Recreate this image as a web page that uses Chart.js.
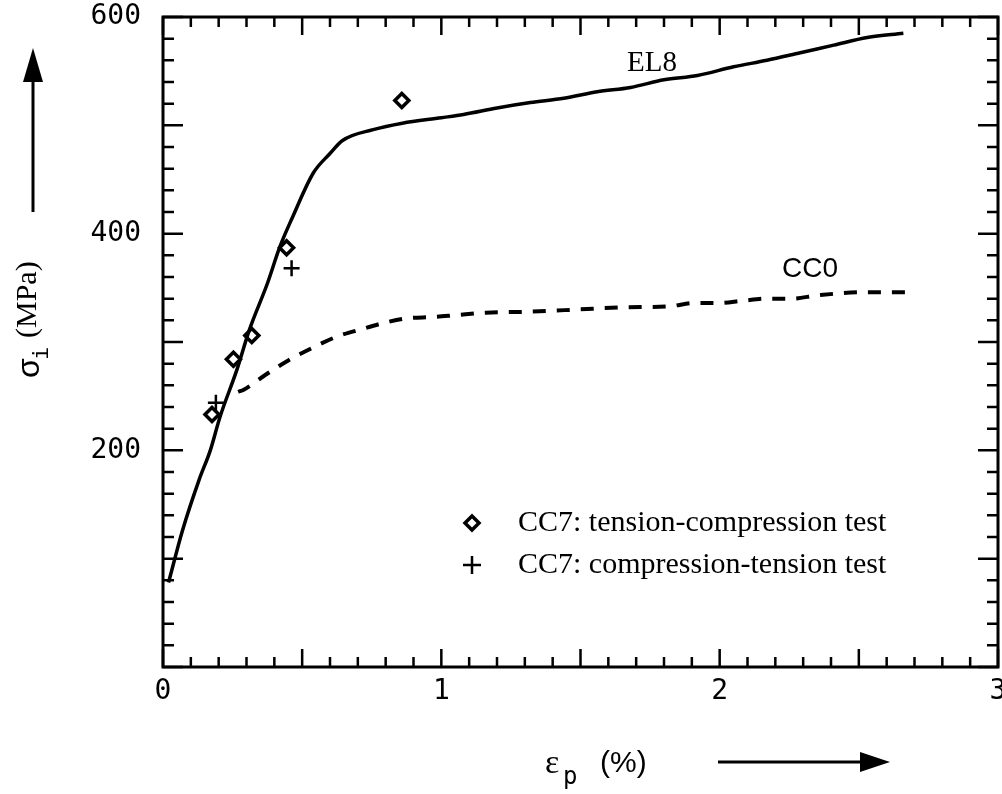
<!DOCTYPE html>
<html lang="en">
<head>
  <meta charset="UTF-8">
  <title>Stress vs plastic strain</title>
  <style>
    body { margin: 0; background: #fff; }
    #wrap { width: 1002px; height: 794px; }
  </style>
  <script src="https://cdn.jsdelivr.net/npm/chart.js"></script>
</head>
<body>
  <div id="wrap"><canvas id="chart" width="1002" height="794"></canvas></div>
  <script>
    // EL8 curve (solid)
    const elStrain = [0.02, 0.07, 0.13, 0.17, 0.205, 0.265, 0.31, 0.375, 0.42, 0.465, 0.54, 0.60, 0.645, 0.755, 0.86, 1.0, 1.08, 1.2, 1.32, 1.44, 1.56, 1.68, 1.8, 1.92, 2.05, 2.17, 2.29, 2.41, 2.53, 2.66];
    const elStress = [78, 126, 173, 200, 231, 274, 311, 354, 388, 415, 456, 474, 486, 496, 502, 507, 510, 516, 521, 525, 531, 535, 542, 546, 554, 560, 567, 574, 581, 585];
    // CC0 curve (dashed)
    const ccStrain = [0.27, 0.29, 0.37, 0.45, 0.54, 0.625, 0.715, 0.80, 0.88, 0.97, 1.06, 1.16, 1.32, 1.49, 1.65, 1.82, 1.91, 2.0, 2.08, 2.17, 2.26, 2.35, 2.52, 2.70];
    const ccStress = [254, 256, 270, 283, 295, 305, 312, 318, 322, 323, 325, 327, 328, 330, 332, 333, 336, 336, 338, 340, 340, 343, 346, 346];
    // CC7 tests
    const tcStrain = [0.176, 0.253, 0.319, 0.444, 0.858];
    const tcStress = [233, 284, 306, 387, 523];
    const ctStrain = [0.19, 0.462];
    const ctStress = [244, 368];
    const xTicks = [0, 1, 2, 3];
    const yTicks = [200, 400, 600];

    const pts = (xs, ys) => xs.map((v, i) => ({ x: v, y: ys[i] }));
    const tickFont = { family: 'DejaVu Sans Mono', size: 28 };

    // pin the plot box to the same frame as the original figure
    const fitArea = {
      id: 'fitArea',
      afterLayout(chart) {
        const a = chart.chartArea, x = chart.scales.x;
        a.right = 998; a.width = a.right - a.left;
        x.right = 998; x.width = x.right - x.left;
        x.configure();
      }
    };

    // frame with inward ticks, curve labels, legend and axis titles
    const decor = {
      id: 'decor',
      afterDraw(chart) {
        const { ctx, chartArea: a, scales: { x, y } } = chart;
        ctx.save();
        ctx.strokeStyle = '#000';
        ctx.fillStyle = '#000';
        ctx.lineWidth = 3;
        ctx.strokeRect(a.left, a.top, a.right - a.left, a.bottom - a.top);
        ctx.lineWidth = 2.5;
        ctx.beginPath();
        for (let i = 0; i <= 30; i++) {
          const px = x.getPixelForValue(i / 10);
          const len = i % 5 === 0 ? 18 : 10;
          ctx.moveTo(px, a.bottom); ctx.lineTo(px, a.bottom - len);
          ctx.moveTo(px, a.top); ctx.lineTo(px, a.top + len);
        }
        for (let v = 0; v <= 600; v += 20) {
          const py = y.getPixelForValue(v);
          const len = v % 100 === 0 ? 20 : 11;
          ctx.moveTo(a.left, py); ctx.lineTo(a.left + len, py);
          ctx.moveTo(a.right, py); ctx.lineTo(a.right - len, py);
        }
        ctx.stroke();

        // curve labels
        ctx.textBaseline = 'middle';
        ctx.textAlign = 'center';
        ctx.font = '29px "Liberation Serif"';
        ctx.fillText('EL8', x.getPixelForValue(1.757), y.getPixelForValue(557));
        ctx.font = '28px "Liberation Sans"';
        ctx.fillText('CC0', x.getPixelForValue(2.325), y.getPixelForValue(367));

        // legend
        const lx = a.left + 309, ly1 = a.top + 506, ly2 = a.top + 548;
        ctx.lineWidth = 3.5;
        ctx.beginPath();
        ctx.moveTo(lx, ly1 - 7); ctx.lineTo(lx + 7, ly1); ctx.lineTo(lx, ly1 + 7); ctx.lineTo(lx - 7, ly1); ctx.closePath();
        ctx.stroke();
        ctx.lineWidth = 2.5;
        ctx.beginPath();
        ctx.moveTo(lx - 9, ly2); ctx.lineTo(lx + 9, ly2);
        ctx.moveTo(lx, ly2 - 9); ctx.lineTo(lx, ly2 + 9);
        ctx.stroke();
        ctx.textAlign = 'left';
        ctx.font = '30px "Liberation Serif"';
        ctx.fillText('CC7: tension-compression test', lx + 46, ly1);
        ctx.fillText('CC7: compression-tension test', lx + 46, ly2);

        // x axis title + arrow
        ctx.font = '34px "Liberation Serif"';
        ctx.fillText('\u03b5', 545, 764);
        ctx.font = '24px "DejaVu Sans Mono"';
        ctx.fillText('p', 563, 778);
        ctx.font = '30px "Liberation Sans"';
        ctx.fillText('(%)', 600, 764);
        ctx.lineWidth = 3;
        ctx.beginPath(); ctx.moveTo(718, 762); ctx.lineTo(866, 762); ctx.stroke();
        ctx.beginPath(); ctx.moveTo(890, 762); ctx.lineTo(860, 752); ctx.lineTo(860, 772); ctx.closePath(); ctx.fill();

        // y axis title + arrow
        ctx.save();
        ctx.translate(30, 378);
        ctx.rotate(-Math.PI / 2);
        ctx.textAlign = 'left';
        ctx.font = '32px "Liberation Sans"';
        ctx.fillText('\u03c3', 0, 0);
        ctx.font = '22px "DejaVu Sans Mono"';
        ctx.fillText('i', 18, 12);
        ctx.font = '30px "Liberation Serif"';
        ctx.fillText('(MPa)', 40, -2);
        ctx.restore();
        ctx.lineWidth = 3;
        ctx.beginPath(); ctx.moveTo(33, 212); ctx.lineTo(33, 75); ctx.stroke();
        ctx.beginPath(); ctx.moveTo(33, 48); ctx.lineTo(23, 82); ctx.lineTo(43, 82); ctx.closePath(); ctx.fill();
        ctx.restore();
      }
    };

    new Chart(document.getElementById('chart'), {
      type: 'scatter',
      data: {
        datasets: [
          { label: 'EL8', data: pts(elStrain, elStress), showLine: true, borderColor: '#000', borderWidth: 3.5, pointRadius: 0, cubicInterpolationMode: 'monotone' },
          { label: 'CC0', data: pts(ccStrain, ccStress), showLine: true, borderColor: '#000', borderWidth: 4, borderDash: [13, 11], pointRadius: 0, cubicInterpolationMode: 'monotone' },
          { label: 'CC7: tension-compression test', data: pts(tcStrain, tcStress), pointStyle: 'rectRot', pointRadius: 7, borderWidth: 3.5, borderColor: '#000', backgroundColor: '#fff' },
          { label: 'CC7: compression-tension test', data: pts(ctStrain, ctStress), pointStyle: 'cross', pointRadius: 8, borderWidth: 2.5, borderColor: '#000' }
        ]
      },
      options: {
        responsive: false,
        animation: false,
        devicePixelRatio: 1,
        layout: { padding: { left: 0, top: 17, right: 4, bottom: 0 } },
        plugins: { legend: { display: false }, tooltip: { enabled: false } },
        scales: {
          x: {
            type: 'linear', min: 0, max: 3,
            grid: { display: false, drawTicks: false },
            border: { display: false },
            ticks: {
              stepSize: 1, padding: 8, color: '#000', font: tickFont,
              callback: v => xTicks.includes(v) ? String(v) : ''
            },
            afterFit: s => { s.height = 127; s.paddingLeft = 0; s.paddingRight = 0; }
          },
          y: {
            type: 'linear', min: 0, max: 600,
            grid: { display: false, drawTicks: false },
            border: { display: false },
            ticks: {
              stepSize: 200, padding: 22, color: '#000', font: tickFont,
              callback: v => yTicks.includes(v) ? String(v) : ''
            },
            afterFit: s => { s.width = 163; s.paddingTop = 0; s.paddingBottom = 0; }
          }
        }
      },
      plugins: [fitArea, decor]
    });
  </script>
</body>
</html>
